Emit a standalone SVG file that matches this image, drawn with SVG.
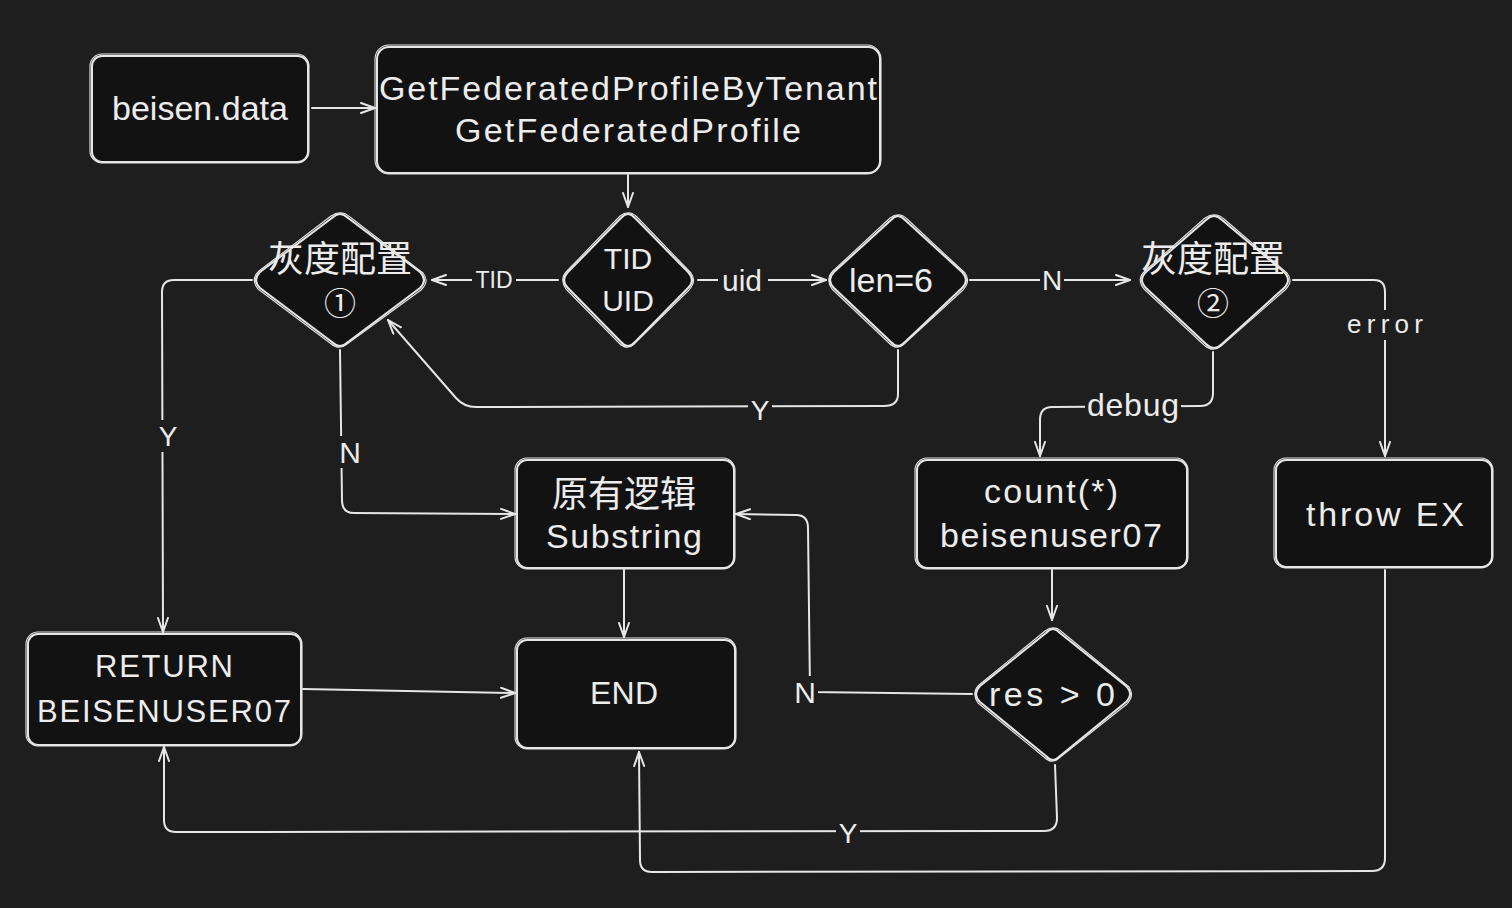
<svg xmlns="http://www.w3.org/2000/svg" width="1512" height="908" viewBox="0 0 1512 908">
<defs>
<style>
.bg{fill:#1e1e1e}
.node{fill:#121212;stroke:#e6e6e6;stroke-width:2;stroke-linejoin:round}
.sk{fill:none;stroke:#e6e6e6;stroke-width:1.1;stroke-linejoin:round}
.conn{fill:none;stroke:#e6e6e6;stroke-width:2;stroke-linecap:round;stroke-linejoin:round}
.t{font-family:"Liberation Sans","Noto Sans CJK SC",sans-serif;fill:#ececec;text-anchor:middle;dominant-baseline:central}
.cjk{font-family:"Noto Sans CJK SC","Liberation Sans",sans-serif;fill:#ececec;text-anchor:middle;dominant-baseline:central}
.lbl{fill:#1e1e1e}
</style>
<marker id="ah" viewBox="0 0 16 12" refX="15" refY="6" markerWidth="16" markerHeight="12" markerUnits="userSpaceOnUse" orient="auto">
<path d="M1,1 L15,6 L1,11" fill="none" stroke="#e6e6e6" stroke-width="2" stroke-linejoin="round" stroke-linecap="round"/>
</marker>
</defs>
<rect class="bg" x="0" y="0" width="1512" height="908"/>

<g id="connectors">
<path class="conn" d="M312,108 L375,108" marker-end="url(#ah)"/>
<path class="conn" d="M628,175 L628,207" marker-end="url(#ah)"/>
<path class="conn" d="M558,280 L432,280" marker-end="url(#ah)"/>
<path class="conn" d="M698,280 L826,280" marker-end="url(#ah)"/>
<path class="conn" d="M970,280 L1130,280" marker-end="url(#ah)"/>
<path class="conn" d="M898,350 L898,394 Q898,406 884,406 L476,407 Q464,407 456,398 L388,320" marker-end="url(#ah)"/>
<path class="conn" d="M1293,280 L1374,280 Q1385,280 1385,292 L1385,456" marker-end="url(#ah)"/>
<path class="conn" d="M1213,352 L1213,393 Q1213,406 1200,406 L1052,407 Q1040,407 1040,420 L1040,456" marker-end="url(#ah)"/>
<path class="conn" d="M252,280 L174,280 Q162,280 162,292 L163,632" marker-end="url(#ah)"/>
<path class="conn" d="M340,350 L342,500 Q342,513 354,513 L515,514" marker-end="url(#ah)"/>
<path class="conn" d="M624,570 L624,637" marker-end="url(#ah)"/>
<path class="conn" d="M1052,570 L1052,620" marker-end="url(#ah)"/>
<path class="conn" d="M303,689 L515,693" marker-end="url(#ah)"/>
<path class="conn" d="M972,694 L810,692 L808,528 Q808,515 796,515 L736,514" marker-end="url(#ah)"/>
<path class="conn" d="M1055,765 L1057,818 Q1057,831 1044,831 L176,832 Q164,832 164,820 L164,747" marker-end="url(#ah)"/>
<path class="conn" d="M1385,570 L1385,858 Q1385,871 1372,871 L652,872 Q640,872 640,860 L639,752" marker-end="url(#ah)"/>
</g>

<g id="labels">
<rect class="lbl" x="472" y="266" width="44" height="28"/>
<text class="t" x="494" y="280" font-size="23">TID</text>
<rect class="lbl" x="718" y="264" width="50" height="32"/>
<text class="t" x="742" y="280" font-size="30">uid</text>
<rect class="lbl" x="1040" y="264" width="24" height="32"/>
<text class="t" x="1052" y="280" font-size="28">N</text>
<rect class="lbl" x="748" y="394" width="24" height="30"/>
<text class="t" x="760" y="410" font-size="28">Y</text>
<rect class="lbl" x="1343" y="310" width="84" height="30"/>
<text class="t" x="1385" y="324" font-size="26" textLength="76">error</text>
<rect class="lbl" x="1085" y="388" width="96" height="38"/>
<text class="t" x="1133" y="405" font-size="32" textLength="92">debug</text>
<rect class="lbl" x="154" y="420" width="26" height="32"/>
<text class="t" x="168" y="436" font-size="28">Y</text>
<rect class="lbl" x="338" y="436" width="26" height="32"/>
<text class="t" x="350" y="452" font-size="30">N</text>
<rect class="lbl" x="792" y="676" width="26" height="32"/>
<text class="t" x="805" y="692" font-size="30">N</text>
<rect class="lbl" x="836" y="818" width="24" height="30"/>
<text class="t" x="848" y="833" font-size="28">Y</text>
</g>

<g id="n-beisen-data">
<rect class="node" x="92" y="56" width="216" height="106" rx="10"/>
<rect class="sk" x="90" y="54" width="219" height="109" rx="12"/>
<text class="t" x="200" y="108" font-size="34" textLength="176">beisen.data</text>
</g>

<g id="n-getfederated">
<rect class="node" x="377" y="47" width="503" height="126" rx="12"/>
<rect class="sk" x="375" y="45" width="506" height="129" rx="14"/>
<text class="t" x="628" y="88" font-size="34" textLength="498">GetFederatedProfileByTenant</text>
<text class="t" x="628" y="130" font-size="34" textLength="346">GetFederatedProfile</text>
</g>

<g id="n-gray1">
<path class="node" d="M332,218 Q340,210 348,218 L420,272 Q428,280 420,288 L348,342 Q340,350 332,342 L260,288 Q252,280 260,272 Z"/>
<path class="sk" d="M331,216 Q341,209 350,217 L423,273 Q430,281 421,290 L347,344 Q339,351 330,343 L258,289 Q250,279 259,271 Z"/>
<text class="cjk" x="340" y="256" font-size="36">灰度配置</text>
<text class="cjk" x="340" y="301" font-size="32">①</text>
</g>

<g id="n-tid-uid">
<path class="node" d="M621,218 Q628,210 635,218 L688,272 Q696,280 688,288 L635,342 Q628,350 621,342 L568,288 Q560,280 568,272 Z"/>
<path class="sk" d="M620,216 Q629,209 637,217 L691,273 Q697,281 689,290 L634,344 Q627,351 619,343 L566,289 Q559,279 567,271 Z"/>
<text class="t" x="628" y="258" font-size="30">TID</text>
<text class="t" x="628" y="300" font-size="30">UID</text>
</g>

<g id="n-len6">
<path class="node" d="M891,220 Q898,212 905,220 L962,272 Q970,280 962,288 L905,342 Q898,350 891,342 L834,288 Q826,280 834,272 Z"/>
<path class="sk" d="M890,218 Q899,211 907,219 L965,273 Q971,281 963,290 L904,344 Q897,351 889,343 L832,289 Q825,279 833,271 Z"/>
<text class="t" x="891" y="280" font-size="34" textLength="84">len=6</text>
</g>

<g id="n-gray2">
<path class="node" d="M1206,220 Q1214,212 1222,220 L1284,272 Q1292,280 1284,288 L1222,344 Q1214,352 1206,344 L1146,288 Q1138,280 1146,272 Z"/>
<path class="sk" d="M1205,218 Q1215,211 1224,219 L1287,273 Q1294,281 1285,290 L1221,346 Q1213,353 1204,345 L1144,289 Q1136,279 1145,271 Z"/>
<text class="cjk" x="1213" y="256" font-size="36">灰度配置</text>
<text class="cjk" x="1213" y="301" font-size="32">②</text>
</g>

<g id="n-original">
<rect class="node" x="517" y="460" width="217" height="108" rx="10"/>
<rect class="sk" x="515" y="458" width="220" height="111" rx="12"/>
<text class="cjk" x="624" y="491" font-size="36">原有逻辑</text>
<text class="t" x="624" y="536" font-size="34" textLength="156">Substring</text>
</g>

<g id="n-count">
<rect class="node" x="917" y="460" width="270" height="108" rx="10"/>
<rect class="sk" x="915" y="458" width="273" height="111" rx="12"/>
<text class="t" x="1051" y="491" font-size="34" textLength="134">count(*)</text>
<text class="t" x="1051" y="535" font-size="34" textLength="222">beisenuser07</text>
</g>

<g id="n-throw">
<rect class="node" x="1276" y="460" width="216" height="107" rx="10"/>
<rect class="sk" x="1274" y="458" width="219" height="110" rx="12"/>
<text class="t" x="1385" y="514" font-size="34" textLength="158">throw EX</text>
</g>

<g id="n-return">
<rect class="node" x="28" y="634" width="273" height="111" rx="10"/>
<rect class="sk" x="26" y="632" width="276" height="114" rx="12"/>
<text class="t" x="164" y="666" font-size="31" textLength="138">RETURN</text>
<text class="t" x="164" y="711" font-size="31" textLength="254">BEISENUSER07</text>
</g>

<g id="n-end">
<rect class="node" x="517" y="640" width="218" height="108" rx="10"/>
<rect class="sk" x="515" y="638" width="221" height="111" rx="12"/>
<text class="t" x="624" y="693" font-size="32" textLength="68">END</text>
</g>

<g id="n-res">
<path class="node" d="M1046,633 Q1053,625 1060,633 L1126,686 Q1134,694 1126,702 L1060,756 Q1053,764 1046,756 L980,702 Q972,694 980,686 Z"/>
<path class="sk" d="M1045,631 Q1054,624 1062,632 L1129,687 Q1135,695 1127,704 L1059,758 Q1052,765 1044,757 L978,703 Q971,693 979,685 Z"/>
<text class="t" x="1052" y="694" font-size="34" textLength="126">res &gt; 0</text>
</g>
</svg>
